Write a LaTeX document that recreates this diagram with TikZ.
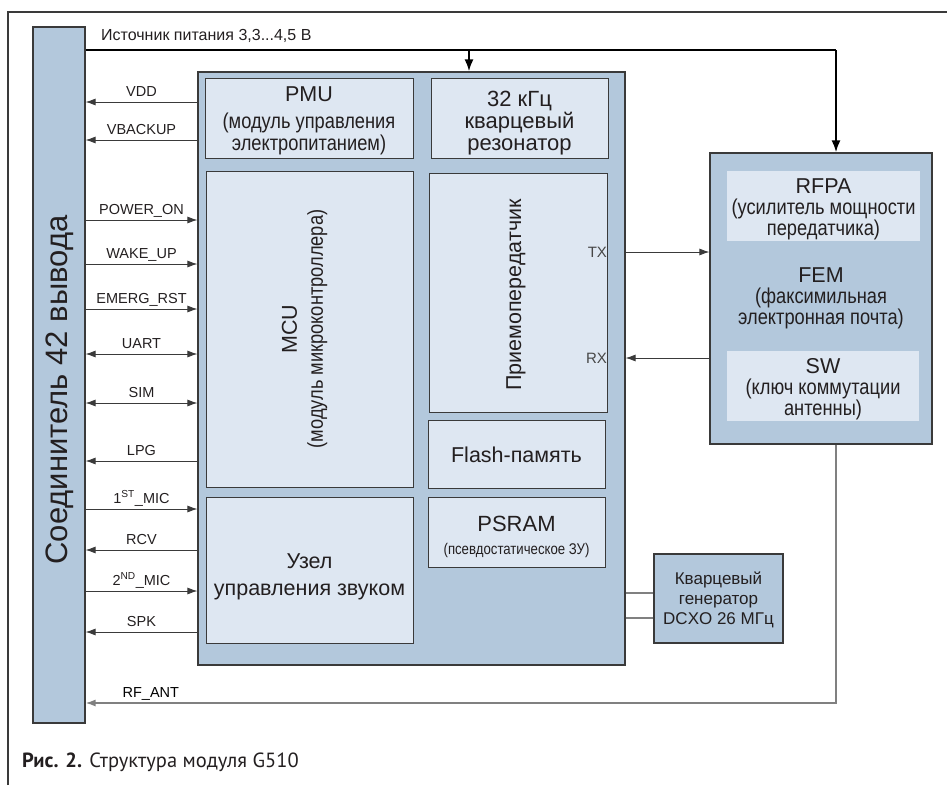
\documentclass[tikz,border=0pt]{standalone}
\usepackage{fontspec}
\setmainfont{Liberation Sans}
\newfontfamily\condA[FakeStretch=0.85]{Liberation Sans}
\newfontfamily\capfont{PT Sans}
\usetikzlibrary{arrows.meta}
\definecolor{blk}{HTML}{B3C8DC}
\definecolor{inn}{HTML}{DEE7F2}
\definecolor{edgec}{HTML}{3A3A3A}
\definecolor{txt}{HTML}{231F20}
\definecolor{gln}{HTML}{808080}
\newcommand{\ttl}[1]{{\normalfont\fontsize{21.5}{22}\selectfont #1}}
\tikzset{
  outerbox/.style={draw=edgec, fill=blk, line width=1.1pt, inner sep=0pt},
  innerbox/.style={draw=edgec, fill=inn, line width=0.9pt, inner sep=0pt},
  flatbox/.style={fill=inn, inner sep=0pt},
  btext/.style={align=center, inner sep=0pt},
  subfont/.style={font=\condA\fontsize{21.5}{20}\selectfont},
  sig/.style={draw=edgec, line width=0.9pt},
  tipR/.style={-{Latex[length=10pt,width=7pt]}},
  tipB/.style={{Latex[length=10pt,width=7pt]}-{Latex[length=10pt,width=7pt]}},
  lbl/.style={font=\fontsize{14.5}{15}\selectfont, anchor=base, yshift=6pt, inner sep=0pt},
  trlbl/.style={anchor=east, font=\fontsize{15}{15}\selectfont, inner sep=0.3pt, text=black!72},
  grayline/.style={draw=gln, line width=1.4pt},
  powline/.style={draw=black, line width=2.2pt},
  powtip/.style={-{Latex[length=12pt,width=9pt]}},
  framel/.style={draw=edgec, line width=1.3pt},
}
\begin{document}
\begin{tikzpicture}[x=1pt,y=-1pt, every node/.append style={text=txt}]
\useasboundingbox (0,0) rectangle (947,785);
\draw[framel] (8,785) -- (8,12) -- (947,12);

% connector
\node[outerbox, minimum width=52pt, minimum height=696pt] (conn) at (59,375) {};
\node[rotate=90, font=\fontsize{31}{31}\selectfont, inner sep=0pt] (connT) at (60,390) {Соединитель 42 вывода};

% main module block
\node[outerbox, minimum width=427pt, minimum height=593pt] (main) at (411.5,368.5) {};

\node[innerbox, minimum width=208pt, minimum height=80pt] (pmu) at (309,118) {};
\node[btext, font=\condA\fontsize{21.5}{22}\selectfont] (pmuT) at (309,120.5)
  {\ttl{PMU}\\[5pt] (модуль управления\\ электропитанием)};

\node[innerbox, minimum width=177pt, minimum height=80pt] (kvz) at (519.5,118) {};
\node[btext, font=\fontsize{22}{22}\selectfont] (kvzT) at (519.5,123)
  {32 кГц\\ кварцевый\\ резонатор};

\node[innerbox, minimum width=207pt, minimum height=316pt] (mcu) at (309.5,329) {};
\node[rotate=90, subfont, btext] (mcuT) at (304.5,329) {\ttl{MCU}\\[6pt] (модуль микроконтроллера)};

\node[innerbox, minimum width=207pt, minimum height=146pt] (snd) at (309.5,570) {};
\node[btext, font=\fontsize{21.5}{27}\selectfont] (sndT) at (309.5,577)
  {Узел\\ управления звуком};

\node[innerbox, minimum width=178pt, minimum height=239pt] (trx) at (518,292.5) {};
\node[rotate=90, font=\fontsize{21.5}{22}\selectfont, inner sep=0pt] (trxT) at (516,295) {Приемопередатчик};

\node[innerbox, minimum width=177pt, minimum height=68pt] (flash) at (516.5,454) {};
\node[btext, font=\fontsize{21.5}{22}\selectfont] (flashT) at (516.5,455) {Flash-память};

\node[innerbox, minimum width=177pt, minimum height=70pt] (psram) at (516.5,532) {};
\node[btext, font=\condA\fontsize{15.5}{16}\selectfont] (psramT) at (516.5,537)
  {{\normalfont\fontsize{22}{22}\selectfont PSRAM}\\[7pt] (псевдостатическое ЗУ)};

% TX / RX levels
\coordinate (tx) at (0,252);
\coordinate (rx) at (0,358);
\node[trlbl] (txT) at (trx.east |- tx) {TX};
\node[trlbl] (rxT) at (trx.east |- rx) {RX};

% FEM block
\node[outerbox, minimum width=222pt, minimum height=291pt] (fem) at (821,298.5) {};
\node[flatbox, minimum width=193pt, minimum height=70pt] (rfpa) at (823.5,206) {};
\node[btext, subfont] (rfpaT) at (823.5,209.5)
  {\ttl{RFPA}\\[1pt] (усилитель мощности\\ передатчика)};
\node[btext, subfont] (femT) at (821,298.5)
  {\ttl{FEM}\\[1pt] (факсимильная\\ электронная почта)};
\node[flatbox, minimum width=192pt, minimum height=70pt] (sw) at (823,386) {};
\node[btext, subfont] (swT) at (823,389)
  {\ttl{SW}\\[1pt] (ключ коммутации\\ антенны)};

% DCXO
\node[outerbox, minimum width=129pt, minimum height=89pt] (dcxo) at (718.5,598.5) {};
\node[btext, font=\fontsize{17}{20}\selectfont] (dcxoT) at (718.5,600)
  {Кварцевый\\ генератор\\ DCXO 26 МГц};

% power supply line
\node[anchor=west, font=\fontsize{16}{16}\selectfont, inner sep=0pt] (pwrT) at (101,36) {Источник питания 3,3...4,5 В};
\coordinate (pY) at (0,50);
\coordinate (pTap) at (469,50);
\coordinate (pCorner) at (836,50);
\draw[powline] (conn.east |- pY) -- (pCorner);
\draw[powline, powtip] (pTap) -- (main.north -| pTap);
\draw[powline, powtip] (pCorner) -- (fem.north -| pCorner);

% TX / RX connectors
\draw[sig, tipR] (main.east |- tx) -- (fem.west |- tx);
\draw[sig, tipR] (fem.west |- rx) -- (main.east |- rx);

% DCXO connectors
\coordinate (d1) at (0,593);
\coordinate (d2) at (0,618);
\draw[grayline] (main.east |- d1) -- (dcxo.west |- d1);
\draw[grayline] (main.east |- d2) -- (dcxo.west |- d2);

% RF_ANT
\coordinate (rfc) at (836,703);
\draw[grayline, tipR] (fem.south -| rfc) -- (rfc) -- (conn.east |- rfc)
  node[lbl, pos=0.913, text=black] (rfT) {RF\_ANT};

% signals
\coordinate (yVDD) at (0,102);
\coordinate (yVB) at (0,140);
\coordinate (yPO) at (0,220);
\coordinate (yWU) at (0,264);
\coordinate (yER) at (0,309);
\coordinate (yUA) at (0,354);
\coordinate (ySI) at (0,403);
\coordinate (yLP) at (0,461);
\coordinate (yM1) at (0,509);
\coordinate (yRC) at (0,550);
\coordinate (yM2) at (0,591);
\coordinate (ySP) at (0,632);
\draw[sig, tipR] (main.west |- yVDD) -- (conn.east |- yVDD) node[lbl, midway] (lVDD) {VDD};
\draw[sig, tipR] (main.west |- yVB) -- (conn.east |- yVB) node[lbl, midway] (lVB) {VBACKUP};
\draw[sig, tipR] (conn.east |- yPO) -- (main.west |- yPO) node[lbl, midway] (lPO) {POWER\_ON};
\draw[sig, tipR] (conn.east |- yWU) -- (main.west |- yWU) node[lbl, midway] (lWU) {WAKE\_UP};
\draw[sig, tipR] (conn.east |- yER) -- (main.west |- yER) node[lbl, midway] (lER) {EMERG\_RST};
\draw[sig, tipB] (conn.east |- yUA) -- (main.west |- yUA) node[lbl, midway] (lUA) {UART};
\draw[sig, tipB] (conn.east |- ySI) -- (main.west |- ySI) node[lbl, midway] (lSI) {SIM};
\draw[sig, tipR] (main.west |- yLP) -- (conn.east |- yLP) node[lbl, midway] (lLP) {LPG};
\draw[sig, tipR] (conn.east |- yM1) -- (main.west |- yM1) node[lbl, midway] (lM1) {1\textsuperscript{ST}\_MIC};
\draw[sig, tipR] (main.west |- yRC) -- (conn.east |- yRC) node[lbl, midway] (lRC) {RCV};
\draw[sig, tipR] (conn.east |- yM2) -- (main.west |- yM2) node[lbl, midway] (lM2) {2\textsuperscript{ND}\_MIC};
\draw[sig, tipR] (main.west |- ySP) -- (conn.east |- ySP) node[lbl, midway] (lSP) {SPK};

% caption
\node[anchor=west, font=\capfont\fontsize{20.5}{20}\selectfont, inner sep=0pt] (cap) at (22,762)
  {\textbf{Рис. 2.} Структура модуля G510};
\end{tikzpicture}
\end{document}
